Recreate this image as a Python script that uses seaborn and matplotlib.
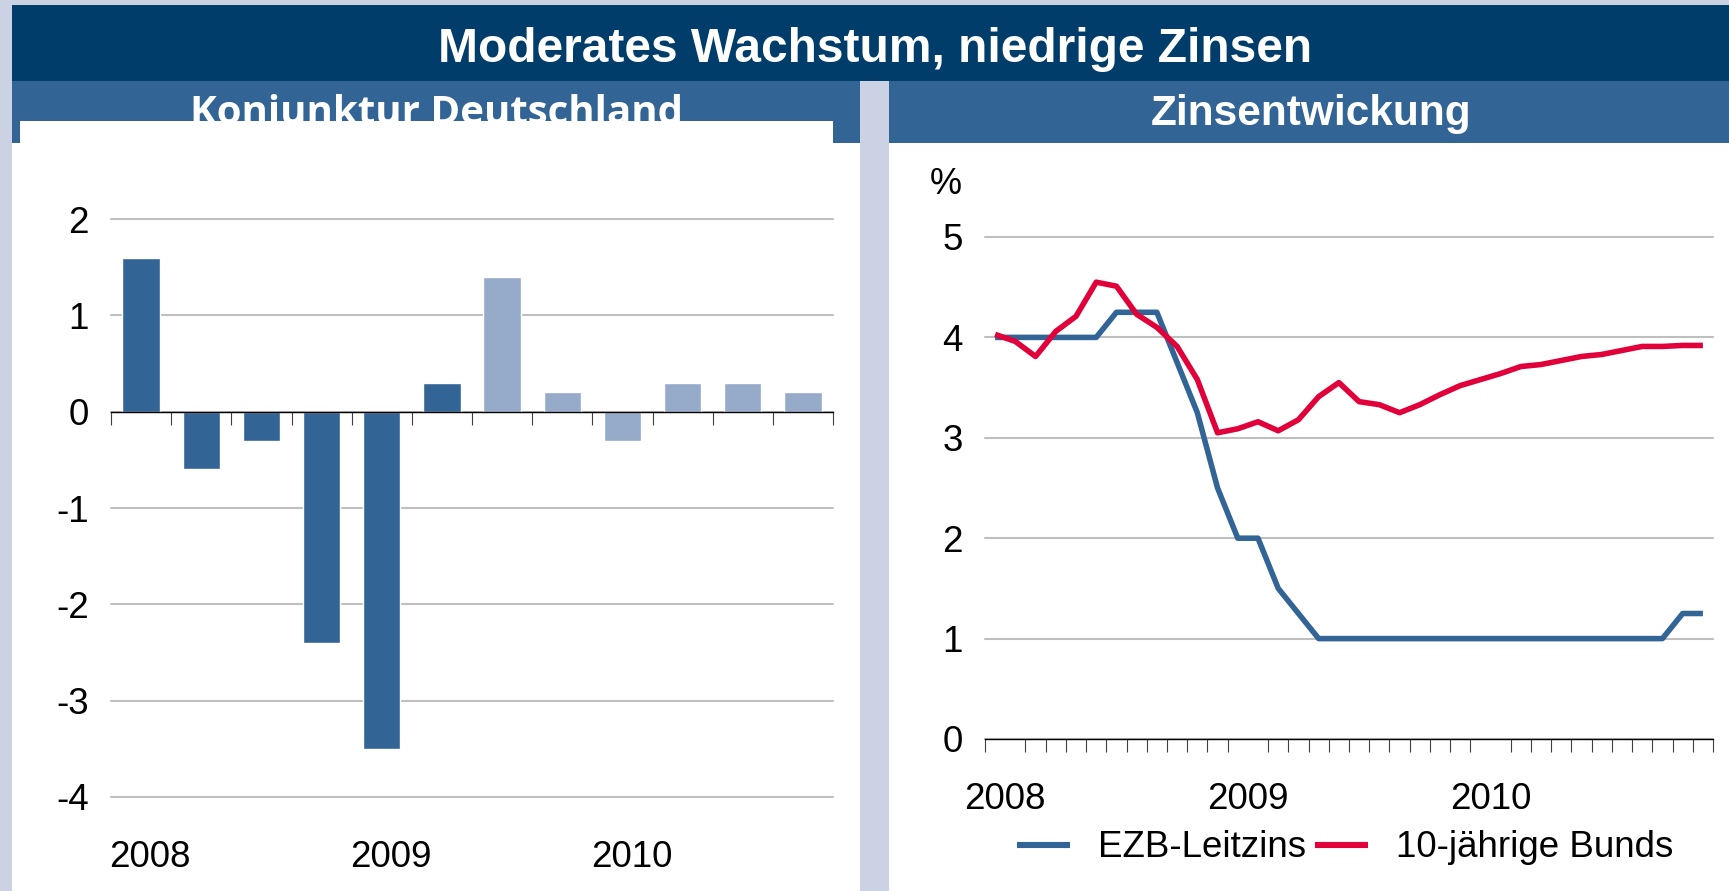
import numpy as np
import pandas as pd
import matplotlib.pyplot as plt
from matplotlib.patches import Rectangle
import seaborn as sns

# Konjunktur Deutschland: BIP, Veränderung gegenüber Vorquartal in %
quartale = ['I/08', 'II/08', 'III/08', 'IV/08', 'I/09', 'II/09',
            'III/09', 'IV/09', 'I/10', 'II/10', 'III/10', 'IV/10']
bip = [1.6, -0.6, -0.3, -2.4, -3.5, 0.3, 1.4, 0.2, -0.3, 0.3, 0.3, 0.2]
bip_art = ['Ist'] * 6 + ['Prognose'] * 6
jahre = ['2008', '2009', '2010']

# Zinsentwicklung, Monatswerte in %
monate = [f'{j}-{m:02d}' for j in (2008, 2009, 2010) for m in range(1, 13)]
ezb_leitzins = [4.0, 4.0, 4.0, 4.0, 4.0, 4.0, 4.25, 4.25, 4.25, 3.75, 3.25, 2.5,
                2.0, 2.0, 1.5, 1.25, 1.0, 1.0, 1.0, 1.0, 1.0, 1.0, 1.0, 1.0,
                1.0, 1.0, 1.0, 1.0, 1.0, 1.0, 1.0, 1.0, 1.0, 1.0, 1.25, 1.25]
bunds_10j = [4.03, 3.96, 3.81, 4.06, 4.21, 4.55, 4.51, 4.23, 4.10, 3.91, 3.58, 3.05,
             3.09, 3.16, 3.07, 3.18, 3.41, 3.55, 3.36, 3.33, 3.25, 3.33, 3.43, 3.52,
             3.58, 3.64, 3.71, 3.73, 3.77, 3.81, 3.83, 3.87, 3.91, 3.91, 3.92, 3.92]

# Farben
RAND = '#CBD2E4'
DUNKEL = '#003D6A'
MITTEL = '#336496'
HELL = '#96AACA'
ROT = '#E1003A'
GITTER = '#BFBFBF'

sns.set_theme(style='white')
plt.rcParams['font.family'] = ['Liberation Sans', 'DejaVu Sans']
plt.rcParams['axes.unicode_minus'] = False

W, H = 1729, 891
fig = plt.figure(figsize=(W / 100, H / 100), dpi=100, facecolor=RAND)


def kasten(x0, y0, x1, y1, farbe, z):
    # Rechteck in Pixelkoordinaten (von oben links)
    fig.add_artist(Rectangle((x0 / W, 1 - y1 / H), (x1 - x0) / W, (y1 - y0) / H,
                             transform=fig.transFigure, facecolor=farbe,
                             edgecolor='none', zorder=z))


# Hintergrund-Kästen
kasten(12, 5, W, 81, DUNKEL, -2)
kasten(12, 81, 860, 143, MITTEL, -2)
kasten(889, 81, W, 143, MITTEL, -2)
kasten(12, 143, 860, H, 'white', -2)
kasten(889, 143, W, H, 'white', -2)
kasten(20, 121, 833, 143, 'white', 4)

fig.text(875 / W, 1 - 62 / H, 'Moderates Wachstum, niedrige Zinsen', ha='center',
         va='baseline', fontsize=34.5, fontweight='bold', color='white', zorder=3)
fig.text(436 / W, 1 - 124 / H, 'Konjunktur Deutschland', ha='center', va='baseline',
         fontsize=29, fontweight='bold', color='white', zorder=3,
         family=['Open Sans', 'DejaVu Sans'])
fig.text(1311 / W, 1 - 125 / H, 'Zinsentwickung', ha='center', va='baseline',
         fontsize=30.5, fontweight='bold', color='white', zorder=3)

# 1. Konjunktur Deutschland (Balken)
ax1 = fig.add_axes([111 / W, 1 - 797 / H, 722 / W, 578 / H])
ax1.set_facecolor('none')
df_bip = pd.DataFrame({'quartal': quartale, 'bip': bip, 'art': bip_art})
sns.barplot(data=df_bip, x='quartal', y='bip', hue='art',
            palette={'Ist': MITTEL, 'Prognose': HELL}, dodge=False, width=0.62,
            saturation=1, legend=False, ax=ax1)
ax1.set_xlim(-0.5, len(quartale) - 0.5)
ax1.set_ylim(-4, 2)
ax1.set_yticks(range(-4, 3))
ax1.yaxis.grid(True, color=GITTER, lw=1.5)
for g in ax1.yaxis.get_gridlines():
    g.set_clip_on(False)
ax1.set_axisbelow(True)
for s in ['top', 'right', 'left']:
    ax1.spines[s].set_visible(False)
ax1.spines['bottom'].set_position(('data', 0))
ax1.spines['bottom'].set_color('black')
ax1.spines['bottom'].set_linewidth(1.0)
ax1.spines['bottom'].set_zorder(3)
ax1.set_xticks([])
ax1.set_xticks(np.arange(-0.5, len(quartale)), minor=True)
ax1.tick_params(axis='x', which='minor', bottom=True, length=9, width=0.8, color='#404040')
ax1.tick_params(axis='y', length=0, pad=16, labelsize=26.5, labelcolor='black')
ax1.set_xlabel('')
ax1.set_ylabel('')

unten = ax1.secondary_xaxis('bottom')
unten.set_xticks([0.15, 4.15, 8.15], labels=jahre)
unten.tick_params(length=0, pad=31, labelsize=26.5, labelcolor='black')
unten.spines['bottom'].set_visible(False)

# 2. Zinsentwicklung (Linien)
ax2 = fig.add_axes([985 / W, 1 - 739 / H, 728 / W, 502 / H])
ax2.set_facecolor('none')
pos = np.arange(len(monate)) + 0.5
df_zins = pd.concat([
    pd.DataFrame({'pos': pos, 'monat': monate, 'zins': ezb_leitzins, 'reihe': 'EZB-Leitzins'}),
    pd.DataFrame({'pos': pos, 'monat': monate, 'zins': bunds_10j, 'reihe': '10-jährige Bunds'}),
])
sns.lineplot(data=df_zins, x='pos', y='zins', hue='reihe',
             palette={'EZB-Leitzins': MITTEL, '10-jährige Bunds': ROT},
             linewidth=4.0, solid_capstyle='butt', ax=ax2)
ax2.set_xlim(0, len(monate))
ax2.set_ylim(0, 5)
ax2.set_yticks(range(6))
ax2.yaxis.grid(True, color=GITTER, lw=1.5)
for g in ax2.yaxis.get_gridlines():
    g.set_clip_on(False)
ax2.set_axisbelow(True)
for s in ['top', 'right', 'left']:
    ax2.spines[s].set_visible(False)
ax2.spines['bottom'].set_color('black')
ax2.spines['bottom'].set_linewidth(1.0)
ax2.set_xticks([1, 13, 25], labels=jahre)
ax2.set_xticks(np.arange(len(monate) + 1), minor=True)
ax2.tick_params(axis='x', which='major', length=0, pad=31, labelsize=26.5, labelcolor='black')
ax2.tick_params(axis='x', which='minor', bottom=True, length=9.4, width=0.8, color='#404040')
ax2.tick_params(axis='y', length=0, pad=16, labelsize=26.5, labelcolor='black')
ax2.set_xlabel('')
ax2.set_ylabel('')
sns.move_legend(ax2, 'center', bbox_to_anchor=(0.4945, -0.217), ncol=2, frameon=False,
                title=None, fontsize=26.5, handlelength=1.45, handletextpad=0.75,
                columnspacing=0.25, labelcolor='black')
for h in ax2.get_legend().get_lines():
    h.set_linewidth(4.4)

fig.text(946 / W, 1 - 185 / H, '%', ha='center', va='center', fontsize=26, color='black')

plt.savefig('out.png', dpi=100, facecolor=RAND)
